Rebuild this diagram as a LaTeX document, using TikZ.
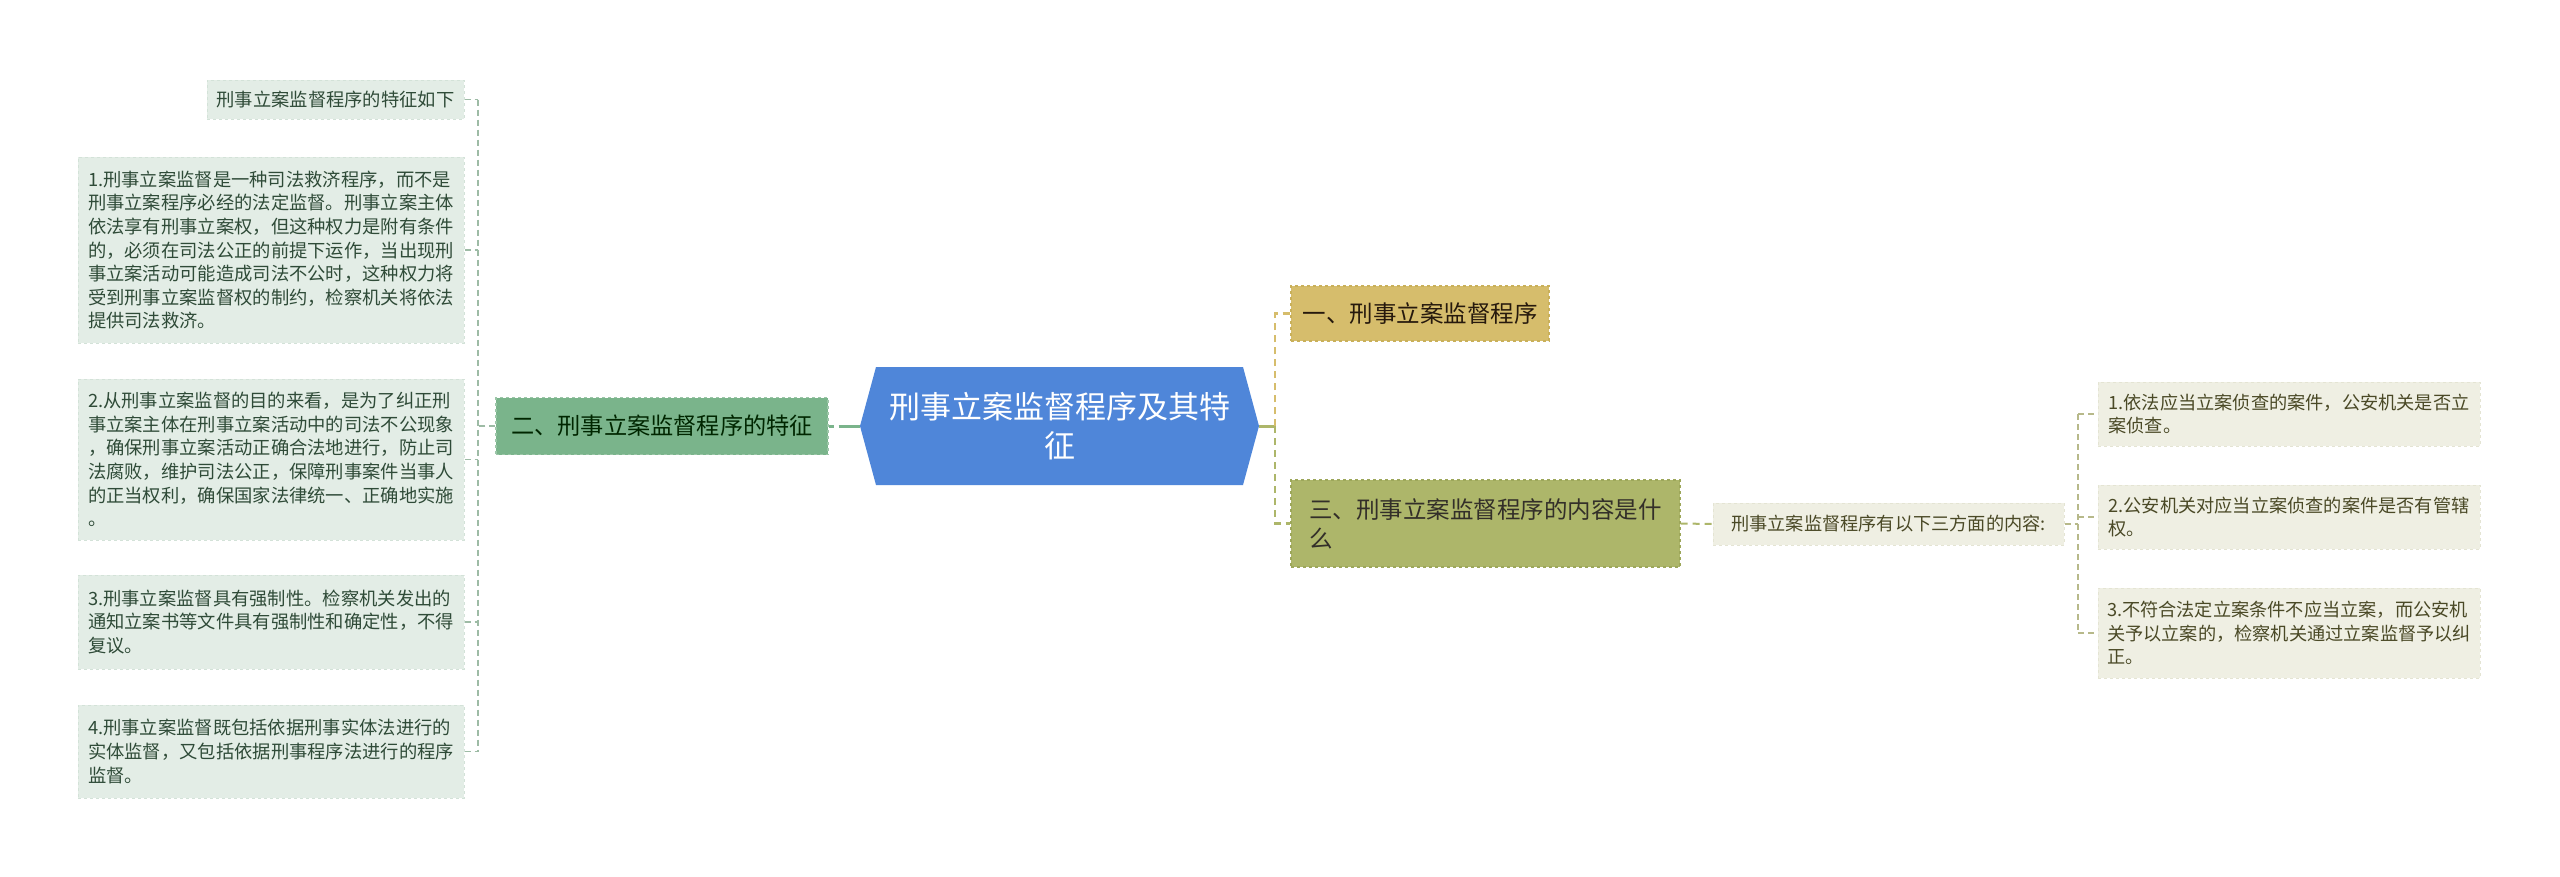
\documentclass[tikz,border=0pt]{standalone}
\usepackage{fontspec}
\setmainfont{Noto Sans CJK SC}
\usetikzlibrary{backgrounds}
\definecolor{rootblue}{HTML}{4F86D9}
\definecolor{bgreen}{HTML}{7AB48B}
\definecolor{bgreenB}{HTML}{9CC6A8}
\definecolor{bgold}{HTML}{D6BD6C}
\definecolor{bgoldB}{HTML}{C9B05A}
\definecolor{bolive}{HTML}{ADB66A}
\definecolor{boliveB}{HTML}{9DA75A}
\definecolor{lleafF}{HTML}{E3EDE6}
\definecolor{lleafB}{HTML}{D3E2D8}
\definecolor{lleafT}{HTML}{2F4B38}
\definecolor{rleafF}{HTML}{EFEFE3}
\definecolor{rleafB}{HTML}{E4E4D3}
\definecolor{rleafT}{HTML}{4A4926}
\definecolor{lconnC}{HTML}{9DBBA5}
\definecolor{rconnC}{HTML}{B7B98A}
\tikzset{
  box/.style={rectangle, inner sep=0pt, align=left, anchor=center},
  lleaf/.style={box, fill=lleafF, draw=lleafB, dashed, line width=1pt, text=lleafT,
    font=\fontsize{18.3}{23.6}\selectfont},
  rleaf/.style={box, fill=rleafF, draw=rleafB, dashed, line width=1pt, text=rleafT,
    font=\fontsize{18.2}{23.6}\selectfont},
  lconn/.style={draw=lconnC, line width=1.5pt, dash pattern=on 6pt off 4pt},
  rconn/.style={draw=rconnC, line width=1.5pt, dash pattern=on 6pt off 4pt},
  greenconn/.style={draw=bgreen, line width=3pt, dash pattern=on 5pt off 5pt on 30pt off 1pt},
  goldconn/.style={draw=bgold, line width=2.5pt, dash pattern=on 7pt off 5pt},
  oliveconn/.style={draw=bolive, line width=2.5pt, dash pattern=on 7pt off 5pt},
}
\begin{document}
\begin{tikzpicture}[x=1pt,y=-1pt]
\useasboundingbox (0,0) rectangle (2560,876);
\fill[white] (0,0) rectangle (2560,876);

% root hexagon
\fill[rootblue] (860,426) -- (876,367) -- (1243,367) -- (1259,426) -- (1243,485) -- (876,485) -- cycle;
\node[box, align=center, text=white, minimum width=399pt, minimum height=118pt,
  font=\fontsize{31}{39}\selectfont] (root) at (1059.5,426) {刑事立案监督程序及其特\\征};

% left branch
\node[box, fill=bgreen, draw=bgreenB, dashed, line width=1.2pt, text=black!85!green,
  minimum width=332pt, minimum height=57pt, font=\fontsize{23.2}{29}\selectfont]
  (b2) at (662,426) {二、刑事立案监督程序的特征};

% left leaves
\node[lleaf, minimum width=257pt, minimum height=39pt] (l0) at (335.5,99.5) {刑事立案监督程序的特征如下};
\node[lleaf, minimum width=386pt, minimum height=186pt] (l1) at (271,250) {1.刑事立案监督是一种司法救济程序，而不是\\刑事立案程序必经的法定监督。刑事立案主体\\依法享有刑事立案权，但这种权力是附有条件\\的，必须在司法公正的前提下运作，当出现刑\\事立案活动可能造成司法不公时，这种权力将\\受到刑事立案监督权的制约，检察机关将依法\\提供司法救济。};
\node[lleaf, minimum width=386pt, minimum height=161pt] (l2) at (271,459.5) {2.从刑事立案监督的目的来看，是为了纠正刑\\事立案主体在刑事立案活动中的司法不公现象\\，确保刑事立案活动正确合法地进行，防止司\\法腐败，维护司法公正，保障刑事案件当事人\\的正当权利，确保国家法律统一、正确地实施\\。};
\node[lleaf, minimum width=386pt, minimum height=94pt] (l3) at (271,622) {3.刑事立案监督具有强制性。检察机关发出的\\通知立案书等文件具有强制性和确定性，不得\\复议。};
\node[lleaf, minimum width=386pt, minimum height=93pt] (l4) at (271,751.5) {4.刑事立案监督既包括依据刑事实体法进行的\\实体监督，又包括依据刑事程序法进行的程序\\监督。};

% right branches
\node[box, fill=bgold, draw=bgoldB, dashed, line width=1.2pt, text=black!80!brown,
  minimum width=258pt, minimum height=55pt, font=\fontsize{23.5}{29}\selectfont]
  (r1) at (1420,313.5) {一、刑事立案监督程序};
\node[box, fill=bolive, draw=boliveB, dashed, line width=1.2pt, text=black!85!olive,
  minimum width=389pt, minimum height=87pt, font=\fontsize{23.5}{29}\selectfont]
  (r3) at (1485.5,523.5) {三、刑事立案监督程序的内容是什\\么};

% mid and right leaves
\node[rleaf, minimum width=351pt, minimum height=42pt] (mid) at (1888.5,524) {刑事立案监督程序有以下三方面的内容:};
\node[rleaf, minimum width=382pt, minimum height=64pt] (q1) at (2289,414) {1.依法应当立案侦查的案件，公安机关是否立\\案侦查。};
\node[rleaf, minimum width=382pt, minimum height=64pt] (q2) at (2289,517) {2.公安机关对应当立案侦查的案件是否有管辖\\权。};
\node[rleaf, minimum width=382pt, minimum height=90pt] (q3) at (2289,633) {3.不符合法定立案条件不应当立案，而公安机\\关予以立案的，检察机关通过立案监督予以纠\\正。};

% connectors left
\coordinate (lt) at (478,426);
\draw[greenconn] (b2.east) -- (root.west);
\draw[lconn] (b2.west) -- (lt);
\draw[lconn] (l0.east -| lt) -- (l4.east -| lt);
\foreach \n in {l0,l1,l2,l3,l4} \draw[lconn] (\n.east) -- (\n.east -| lt);

% connectors right
\coordinate (rt) at (1275,426);
\draw[draw=bolive, line width=3pt] (root.east) -- (rt);
\draw[goldconn] (rt) -- (rt |- r1.west) -- (r1.west);
\draw[oliveconn] (rt) -- (rt |- r3.west) -- (r3.west);
\draw[oliveconn, line width=2pt] (r3.east) -- (mid.west);
\coordinate (mt) at (2078,524);
\draw[rconn] (mid.east) -- (mt);
\draw[rconn] (q1.west -| mt) -- (q3.west -| mt);
\foreach \n in {q1,q2,q3} \draw[rconn] (\n.west -| mt) -- (\n.west);
\end{tikzpicture}
\end{document}
